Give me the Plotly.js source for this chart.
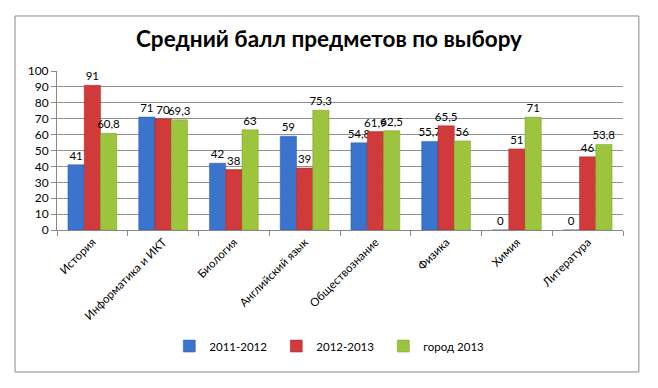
<!DOCTYPE html>
<html><head><meta charset="utf-8">
<script src="https://cdn.plot.ly/plotly-3.0.1.min.js"></script>
<style>html,body{margin:0;padding:0;background:#fff;}#c{width:658px;height:388px;}</style>
</head><body><div id="c"></div>
<script>
const categories = ["История","Информатика и ИКТ","Биология","Английский язык","Обществознание","Физика","Химия","Литература"];
const seriesNames = ["2011-2012","2012-2013","город 2013"];
const s2011 = [41, 71, 42, 59, 54.8, 55.7, 0, 0];
const s2012 = [91, 70, 38, 39, 61.9, 65.5, 51, 46];
const sCity = [60.8, 69.3, 63, 75.3, 62.5, 56, 71, 53.8];
const colors = ["#3a74cc","#d03a3a","#9cc43c"];
const lineColors = ["#2a5aa8","#a82828","#76a02a"];

const fmt = v => String(v).replace('.', ',');
const FONT = "Lato, 'Open Sans', sans-serif";
const traces = [s2011, s2012, sCity].map((vals, i) => ({
  type: 'bar', x: categories, y: vals, name: seriesNames[i],
  marker: {color: colors[i], line: {color: lineColors[i], width: 0.5}},
  text: vals.map(fmt), textposition: 'outside', cliponaxis: false, constraintext: 'none',
  textfont: {family: FONT, size: 11.5, color: '#000'}
}));

const layout = {
  width: 658, height: 388,
  margin: {l: 57, r: 35, t: 71, b: 158},
  paper_bgcolor: '#fff', plot_bgcolor: '#fff',
  font: {family: FONT, size: 11, color: '#000'},
  title: {text: '<b>Средний балл предметов по выбору</b>', font: {family: FONT, size: 22.5, color: '#000'}, x: 0.5, xanchor: 'center', y: 0.9, yanchor: 'middle'},
  barmode: 'group', bargap: 0.31, bargroupgap: 0,
  xaxis: {type: 'category', tickangle: -45, ticks: 'outside', tickson: 'boundaries', ticklen: 5, tickcolor: '#888',
          showline: true, linecolor: '#888', linewidth: 1, showgrid: false, tickfont: {family: FONT, size: 11.5}},
  yaxis: {range: [0, 100], dtick: 10, ticks: 'outside', ticklen: 5, tickcolor: '#888', showline: true, linecolor: '#888',
          gridcolor: '#909090', gridwidth: 1, zeroline: false, tickfont: {family: FONT, size: 12}},
  showlegend: true,
  legend: {orientation: 'h', x: 0.482, xanchor: 'center', y: -0.73, yanchor: 'middle', font: {family: FONT, size: 11.5},
           itemwidth: 30, entrywidth: 62, entrywidthmode: 'pixels', traceorder: 'normal'},
  shapes: [{type: 'rect', xref: 'paper', yref: 'paper', x0: -0.0742, x1: 1.028, y0: -0.893, y1: 1.346,
            line: {color: '#888', width: 1}, fillcolor: 'rgba(0,0,0,0)'}]
};
Plotly.newPlot('c', traces, layout, {displayModeBar: false, staticPlot: true});
</script></body></html>
